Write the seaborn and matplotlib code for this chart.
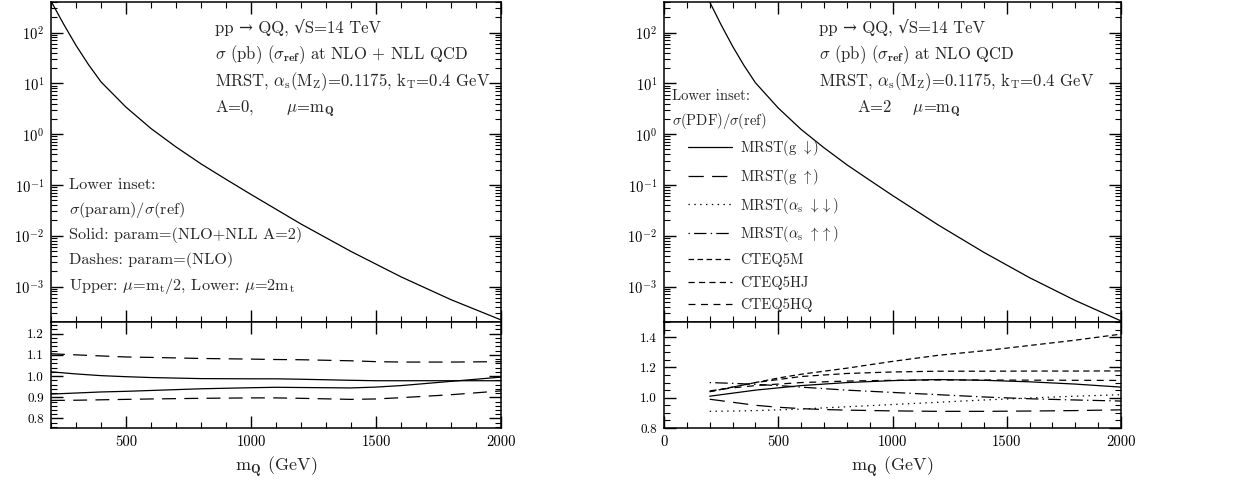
import matplotlib
matplotlib.use("Agg")
import matplotlib.pyplot as plt
from matplotlib.ticker import FixedLocator, NullFormatter, FixedFormatter
import numpy as np
import seaborn as sns

# upper panels: sigma (pb) vs heavy quark mass (GeV)
mass = [200, 250, 300, 350, 400, 500, 600, 700, 800, 900, 1000, 1200, 1400, 1600, 1800, 2000]
sigma_nll = [417, 148, 56, 23.4, 10.7, 3.4, 1.29, 0.56, 0.26, 0.129, 0.065, 0.017, 0.0049, 0.00155, 0.00055, 0.00022]
sigma_nlo = [400, 142, 54, 22.5, 10.3, 3.27, 1.24, 0.54, 0.25, 0.124, 0.062, 0.0163, 0.0047, 0.00149, 0.00053, 0.00021]

# left lower inset: scale variations
mass_l = [200, 300, 400, 500, 600, 800, 1000, 1100, 1200, 1400, 1500, 1600, 1800, 2000]
nlo_up = [1.105, 1.10, 1.095, 1.09, 1.088, 1.083, 1.08, 1.078, 1.077, 1.072, 1.068, 1.066, 1.066, 1.068]
nll_up = [1.02, 1.01, 1.002, 0.997, 0.993, 0.988, 0.987, 0.987, 0.985, 0.98, 0.978, 0.978, 0.978, 0.978]
nll_lo = [0.915, 0.92, 0.925, 0.928, 0.932, 0.94, 0.945, 0.947, 0.946, 0.944, 0.948, 0.955, 0.975, 0.995]
nlo_lo = [0.885, 0.886, 0.888, 0.89, 0.892, 0.895, 0.897, 0.897, 0.895, 0.89, 0.892, 0.898, 0.912, 0.93]

# right lower inset: PDF variations
mass_r = [200, 300, 400, 500, 600, 700, 800, 1000, 1200, 1400, 1600, 1800, 2000]
g_down = [1.01, 1.03, 1.05, 1.065, 1.08, 1.09, 1.10, 1.113, 1.12, 1.115, 1.105, 1.09, 1.07]
g_up = [0.99, 0.97, 0.95, 0.937, 0.928, 0.922, 0.918, 0.913, 0.91, 0.91, 0.912, 0.915, 0.92]
as_down = [0.91, 0.912, 0.915, 0.92, 0.925, 0.933, 0.94, 0.955, 0.97, 0.985, 0.998, 1.01, 1.02]
as_up = [1.10, 1.095, 1.088, 1.08, 1.07, 1.06, 1.05, 1.035, 1.02, 1.005, 0.993, 0.985, 0.978]
cteq5m = [1.04, 1.07, 1.10, 1.13, 1.155, 1.175, 1.195, 1.24, 1.28, 1.31, 1.345, 1.38, 1.42]
cteq5hj = [1.04, 1.07, 1.10, 1.12, 1.14, 1.15, 1.16, 1.17, 1.175, 1.175, 1.176, 1.176, 1.177]
cteq5hq = [1.045, 1.065, 1.08, 1.09, 1.10, 1.105, 1.11, 1.115, 1.117, 1.117, 1.116, 1.115, 1.114]

pdf_labels = [r"MRST(g $\downarrow$)", r"MRST(g $\uparrow$)",
              r"MRST($\alpha_{\rm s}$ $\downarrow\downarrow$)", r"MRST($\alpha_{\rm s}$ $\uparrow\uparrow$)",
              "CTEQ5M", "CTEQ5HJ", "CTEQ5HQ"]

# tick labels
decades = [-3, -2, -1, 0, 1, 2]
decade_labels = [r"$10^{%d}$" % d for d in decades]
left_ratio_ticks = [0.8, 0.9, 1.0, 1.1, 1.2]
right_ratio_ticks = [0.8, 1.0, 1.2, 1.4]

sns.set_style("ticks")
plt.rcParams["font.family"] = ["cmr10", "DejaVu Serif"]
plt.rcParams["mathtext.fontset"] = "cm"
plt.rcParams["axes.formatter.use_mathtext"] = True
plt.rcParams["lines.scale_dashes"] = False
plt.rcParams["axes.linewidth"] = 1.1
plt.rcParams["axes.edgecolor"] = "black"

fig = plt.figure(figsize=(12.33, 4.84), dpi=100)
W, H = 1233, 484


def box(x0, x1, y0, y1):
    return [x0 / W, 1 - y1 / H, (x1 - x0) / W, (y1 - y0) / H]


axL = fig.add_axes(box(51, 501, 2, 322))
axLi = fig.add_axes(box(51, 501, 322, 428))
axR = fig.add_axes(box(664, 1121, 2, 322))
axRi = fig.add_axes(box(664, 1121, 322, 428))


def style_ticks(ax):
    ax.tick_params(which="both", direction="in", top=True, right=True, colors="black")
    ax.tick_params(which="major", length=8.5, width=1.0, labelsize=10.5, pad=5)
    ax.tick_params(which="minor", length=4, width=0.8)


def x_ticks(ax, xmin):
    ax.set_xlim(xmin, 2000)
    major = [v for v in range(0, 2001, 500) if v >= xmin]
    ax.xaxis.set_major_locator(FixedLocator(major))
    ax.xaxis.set_major_formatter(FixedFormatter([str(v) for v in major]))
    ax.xaxis.set_minor_locator(FixedLocator([v for v in range(xmin, 2001, 100) if v % 500]))


def style_upper(ax, xmin):
    ax.set_yscale("log")
    ax.set_ylim(2e-4, 400)
    ax.yaxis.set_major_locator(FixedLocator([10.0 ** d for d in decades]))
    ax.yaxis.set_major_formatter(FixedFormatter(decade_labels))
    minors = [k * 10.0 ** d for d in range(-4, 3) for k in range(2, 10) if 2e-4 <= k * 10.0 ** d <= 400]
    ax.yaxis.set_minor_locator(FixedLocator(minors))
    ax.yaxis.set_minor_formatter(NullFormatter())
    x_ticks(ax, xmin)
    style_ticks(ax)
    ax.tick_params(labelbottom=False)
    ax.set_xlabel("")
    ax.set_ylabel("")


def style_lower(ax, xmin, yticks, ylim, ystep):
    x_ticks(ax, xmin)
    ax.set_ylim(*ylim)
    ax.yaxis.set_major_locator(FixedLocator(yticks))
    ax.yaxis.set_major_formatter(FixedFormatter(["%.1f" % v for v in yticks]))
    n0 = int(np.ceil(ylim[0] / ystep))
    n1 = int(np.floor(ylim[1] / ystep))
    ax.yaxis.set_minor_locator(FixedLocator([n * ystep for n in range(n0, n1 + 1)]))
    style_ticks(ax)
    ax.tick_params(axis="y", labelsize=9.5)
    ax.set_xlabel(r"m$_{\mathbf{Q}}$ (GeV)", fontsize=13, labelpad=4)
    ax.set_ylabel("")


lw = 0.9

# ---- left panel ----
sns.lineplot(x=mass, y=sigma_nll, ax=axL, color="black", lw=lw, legend=False)
style_upper(axL, 200)

sns.lineplot(x=mass_l, y=nlo_up, ax=axLi, color="black", lw=lw, linestyle=(0, (10, 6)), legend=False)
sns.lineplot(x=mass_l, y=nll_up, ax=axLi, color="black", lw=lw, legend=False)
sns.lineplot(x=mass_l, y=nll_lo, ax=axLi, color="black", lw=lw, legend=False)
sns.lineplot(x=mass_l, y=nlo_lo, ax=axLi, color="black", lw=lw, linestyle=(0, (10, 6)), legend=False)
style_lower(axLi, 200, left_ratio_ticks, (0.755, 1.255), 0.02)

fs = 12
tx = 0.364
for i, s in enumerate([r"pp → QQ, √S=14 TeV",
                       r"$\sigma$ (pb) ($\sigma_{\mathbf{ref}}$) at NLO + NLL QCD",
                       r"MRST, $\alpha_{\rm s}$(M$_{\rm Z}$)=0.1175, k$_{\rm T}$=0.4 GeV",
                       r"A=0,      $\mu$=m$_{\mathbf{Q}}$"]):
    axL.text(tx, 0.919 - i * 0.0845, s, transform=axL.transAxes, fontsize=fs, va="center", ha="left")

for i, s in enumerate(["Lower inset:",
                       r"$\sigma$(param)/$\sigma$(ref)",
                       "Solid: param=(NLO+NLL A=2)",
                       "Dashes: param=(NLO)",
                       r"Upper: $\mu$=m$_{\rm t}$/2, Lower: $\mu$=2m$_{\rm t}$"]):
    axL.text(0.04, 0.428 - i * 0.0785, s, transform=axL.transAxes, fontsize=11.7, va="center", ha="left")

# ---- right panel ----
sns.lineplot(x=mass, y=sigma_nlo, ax=axR, color="black", lw=lw, legend=False)
style_upper(axR, 0)

pdf_series = [g_down, g_up, as_down, as_up, cteq5m, cteq5hj, cteq5hq]
pdf_styles = ["-", (0, (11, 6)), (0, (1, 3.2)), (0, (1, 3, 9, 3)),
              (0, (4, 2.5)), (0, (4.5, 3)), (0, (5, 4))]
handles = []
for vals, ls in zip(pdf_series, pdf_styles):
    sns.lineplot(x=mass_r, y=vals, ax=axRi, color="black", lw=lw, linestyle=ls, legend=False)
    handles.append(axRi.get_lines()[-1])
style_lower(axRi, 0, right_ratio_ticks, (0.8, 1.5), 0.05)

tx = 0.339
for i, s in enumerate([r"pp → QQ, √S=14 TeV",
                       r"$\sigma$ (pb) ($\sigma_{\mathbf{ref}}$) at NLO QCD",
                       r"MRST, $\alpha_{\rm s}$(M$_{\rm Z}$)=0.1175, k$_{\rm T}$=0.4 GeV"]):
    axR.text(tx, 0.919 - i * 0.0845, s, transform=axR.transAxes, fontsize=fs, va="center", ha="left")
axR.text(0.422, 0.666, r"A=2    $\mu$=m$_{\mathbf{Q}}$", transform=axR.transAxes, fontsize=fs, va="center", ha="left")
axR.text(0.0175, 0.706, "Lower inset:", transform=axR.transAxes, fontsize=10.5, va="center", ha="left")
axR.text(0.0175, 0.628, r"$\sigma$(PDF)/$\sigma$(ref)", transform=axR.transAxes, fontsize=10.5, va="center", ha="left")

leg = axR.legend(handles=handles, labels=pdf_labels, loc="upper left", bbox_to_anchor=(0.0525, 0.575),
                 frameon=False, fontsize=10.5, handlelength=3.0, handletextpad=0.55,
                 labelspacing=0.6, borderpad=0, borderaxespad=0)

fig.savefig("out.png", dpi=100)
